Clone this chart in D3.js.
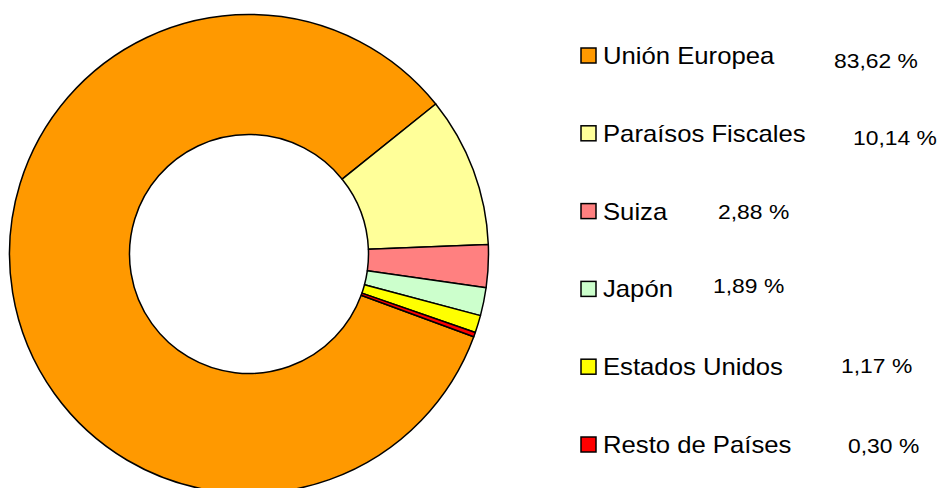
<!DOCTYPE html>
<html>
<head>
<meta charset="utf-8">
<script src="https://cdnjs.cloudflare.com/ajax/libs/d3/7.8.5/d3.min.js"></script>
<style>
  body { margin: 0; background: #fff; }
  text { font-family: "Liberation Sans", Arial, sans-serif; fill: #000; }
</style>
</head>
<body>
<script>
var regions = ["Unión Europea", "Paraísos Fiscales", "Suiza", "Japón", "Estados Unidos", "Resto de Países"];
var shares = [83.62, 10.14, 2.88, 1.89, 1.17, 0.30];
var valueLabels = ["83,62 %", "10,14 %", "2,88 %", "1,89 %", "1,17 %", "0,30 %"];
var colors = ["#FF9900", "#FFFF99", "#FF8080", "#CCFFCC", "#FFFF00", "#FF0000"];

// where Excel dropped each value label (layout only)
var valuePos = [[834, 68], [853, 145], [718, 219], [713, 293], [841, 373], [848, 453]];

var width = 938, height = 488;
var cx = 249, cy = 254, outerR = 239.5, innerR = 119.5;

var svg = d3.select("body").append("svg")
    .attr("width", width)
    .attr("height", height);

var data = regions.map(function(r, i){ return {name: r, value: shares[i], label: valueLabels[i]}; });

var start = 110.2 * Math.PI / 180;
var pie = d3.pie()
    .sort(null)
    .value(function(d){ return d.value; })
    .startAngle(start)
    .endAngle(start + 2 * Math.PI);

var arc = d3.arc().innerRadius(innerR).outerRadius(outerR);

var color = d3.scaleOrdinal().domain(regions).range(colors);

svg.append("g")
    .attr("transform", "translate(" + cx + "," + cy + ")")
    .selectAll("path")
    .data(pie(data))
    .enter()
    .append("path")
    .attr("d", arc)
    .attr("fill", function(d){ return color(d.data.name); })
    .attr("stroke", "#000")
    .attr("stroke-width", 1.5)
    .attr("stroke-linejoin", "round");

// legend
var rowY = d3.scalePoint().domain(regions).range([64, 453]);

var legend = svg.append("g").selectAll("g")
    .data(data)
    .enter()
    .append("g");

legend.append("rect")
    .attr("x", 581)
    .attr("y", function(d){ return rowY(d.name) - 16; })
    .attr("width", 15)
    .attr("height", 15)
    .attr("fill", function(d){ return color(d.name); })
    .attr("stroke", "#000")
    .attr("stroke-width", 1.5);

// the original text is a bit wider than the font, so stretch it horizontally
legend.append("text")
    .attr("transform", function(d){ return "translate(603," + rowY(d.name) + ") scale(1.07,1)"; })
    .style("font-size", "24px")
    .text(function(d){ return d.name; });

legend.append("text")
    .attr("transform", function(d, i){ return "translate(" + valuePos[i][0] + "," + valuePos[i][1] + ") scale(1.09,1)"; })
    .style("font-size", "21px")
    .text(function(d){ return d.label; });
</script>
</body>
</html>
